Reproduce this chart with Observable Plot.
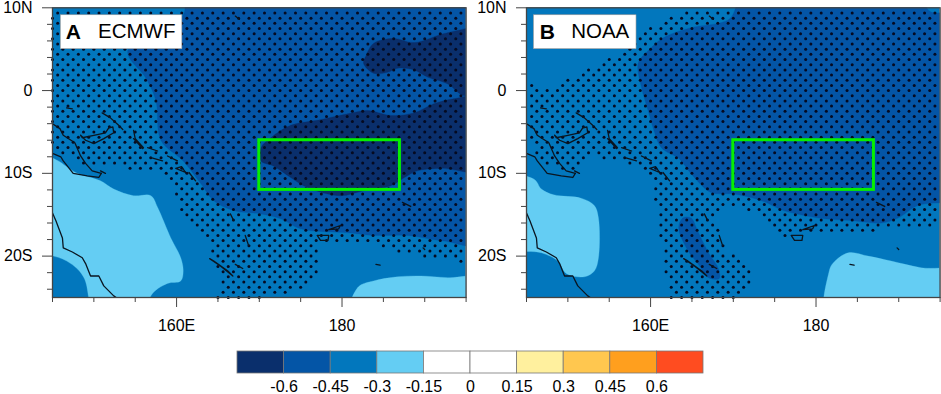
<!DOCTYPE html>
<html><head><meta charset="utf-8">
<script src="https://cdn.jsdelivr.net/npm/d3@7"></script>
<script src="https://cdn.jsdelivr.net/npm/@observablehq/plot@0.6"></script>
<style>
html,body{margin:0;padding:0;background:#fff;width:941px;height:394px;overflow:hidden}
#a,#b,#c{position:absolute;top:0}
svg{display:block;background:transparent!important}
</style></head><body>
<div id="a" style="left:0"></div><div id="b" style="left:474px"></div><div id="c" style="left:200px;top:340px"></div>
<script>
const colors={c1:"#0a2f6c",c2:"#0455a6",c3:"#0277bd",c4:"#64cdf3"};
const levelLabels=[-0.6,-0.45,-0.3,-0.15,0,0.15,0.3,0.45,0.6];
const levelEdges=[-0.75,-0.6,-0.45,-0.3,-0.15,0,0.15,0.3,0.45,0.6,0.75];
const levelColors=["#0a2f6c","#0455a6","#0277bd","#64cdf3","#ffffff","#ffffff","#fff09e","#ffc74f","#ff9f1e","#ff4c20"];

const aMid=[[161.1,10],[160.8,9.1],[154.1,4.8],[156.3,1.5],[157.5,-1.2],[158.1,-6],[160.8,-8.5],[162.9,-11.2],[164.5,-13.3],[166.9,-14.5],[170.2,-14.9],[172.6,-15.5],[175,-16.7],[181,-17.2],[183.8,-17.5],[187.9,-17.5],[191.9,-18.1],[195,-18.4],[195,10]];
const aDarkTop=[[195,7.5],[192.8,7],[188.7,5.8],[186.2,6.3],[183.8,5.7],[182.9,4.2],[182.6,3.3],[183.8,2.1],[185.5,2.2],[186.7,2.7],[188.7,2.5],[190.4,1.6],[192.8,0.8],[194.7,-0.6],[195,-0.6]];
const aDarkMid=[[195,-0.7],[193.5,-1],[191.1,-1.6],[188.7,-2.7],[185.9,-3],[183.1,-2.4],[180.7,-2.8],[177,-3.6],[173.8,-4.2],[171.4,-5.7],[170.2,-6.9],[170.2,-8.5],[171.7,-9.1],[173.8,-10.5],[175.8,-11.7],[179.8,-12.7],[182.6,-12.1],[185.9,-11.5],[187.4,-10.6],[189.1,-9.7],[191.9,-9.4],[195,-9.7]];
const aLightW=[[145,-7],[145.7,-8.5],[146.6,-9.1],[148,-10],[150.8,-10.9],[152.4,-11.9],[154.8,-12.7],[156.9,-12.7],[157.7,-14.1],[159.3,-17.8],[160.5,-20.2],[160.8,-21.8],[160.5,-23],[158.9,-23.3],[156.9,-24.8],[156.7,-25],[150.6,-25],[148.8,-22.6],[147.2,-20.9],[145.1,-20],[145,-20]];
const aLightE=[[180.8,-25],[181.9,-23.8],[183.8,-23],[186.7,-22.5],[189.5,-22.4],[192.8,-22.6],[195,-22.7],[195,-25]];
const aStipple=[[145,10],[195,10],[195,-20.9],[194.3,-20.6],[189.5,-20],[186.2,-19.3],[183.1,-18.4],[179.8,-18.1],[177.4,-18.5],[177.4,-19.7],[177.2,-22.4],[176,-23.6],[171.1,-25],[165,-25],[165.3,-22.1],[164.5,-20.2],[163.7,-18.5],[161.9,-16.7],[160.1,-13.7],[159.5,-11.5],[158.4,-9.7],[156,-9.7],[154.5,-9.4],[152.9,-9.1],[150.8,-8.7],[148,-9.1],[146,-7.3],[145,-6.7]];

const bMid=[[172.4,10],[192.3,10],[193.7,9.6],[195,9.4],[195,-12.3],[192.3,-13.9],[189.9,-15.4],[187.9,-16],[184.2,-15.7],[180.3,-15.4],[176.1,-14.5],[173.4,-13.3],[170.1,-12.5],[167.3,-12.3],[165.3,-10.5],[163.7,-8.5],[163.3,-8.1],[161.3,-6.9],[160.4,-4.8],[159.7,-2.4],[158.9,0.4],[158.5,3.3],[159.7,4.8],[161.6,6.4],[164.9,7.6],[168.5,8.2],[169.7,8.8]];
const bBlob=[[163.4,-16.6],[163.9,-15.4],[164.9,-15.4],[165.7,-17],[167,-19.6],[168.2,-21.5],[168.3,-22.7],[167,-22.6],[165.7,-20.9],[164.5,-19.3]];
const bLightW=[[145,-10.3],[145.9,-10.7],[146.8,-11.9],[148.3,-12.6],[151.6,-13],[153.2,-13.9],[153.7,-15.4],[153.7,-20.2],[153.2,-21.8],[152,-22.5],[149.8,-22.1],[148.8,-20.6],[146.8,-19.6],[145,-18.7]];
const bLightE=[[181.5,-25],[181.6,-21.8],[182.1,-20.8],[183.9,-19.6],[186.3,-20],[189.1,-20.6],[192.7,-21.4],[195,-22.1],[195,-25]];
const bStipple=[[145,1],[146.1,0.5],[148.8,0.2],[150,1.5],[151.6,2.4],[155.6,4.1],[156.8,4.8],[158.6,6.9],[161.6,8.5],[163.7,9.6],[164.9,10],[195,10],[195,-16.3],[193.6,-16.3],[186.7,-16.9],[179.4,-16.9],[175.8,-17.7],[174.6,-16],[172.2,-14.8],[169.1,-13.9],[168,-15.1],[168.5,-17.8],[169.4,-19.7],[172.2,-20.9],[172.3,-23.3],[171,-25],[162.2,-25],[161.6,-20.2],[160.9,-16.6],[160.4,-12.5],[160.1,-10.3],[157.6,-9.1],[156.8,-8.5],[152.8,-7.9],[151.2,-9.7],[149.8,-9.9],[147.4,-9.1],[146.2,-7.9],[145.2,-6]];

const coasts=[
 [[145,-4],[145.9,-4.6],[146.3,-5.4],[147.7,-6.3],[148.4,-7.9],[149,-8.8],[149.8,-9.7],[150.9,-10]],
 [[145,-7.6],[146,-8],[146.3,-8.5],[147.5,-10],[149.2,-10.3],[150.6,-10.5],[150.9,-10]],
 [[148.4,-5.4],[149,-6],[150,-6.4],[151.2,-5.8],[152.4,-5.1],[152.3,-4.4],[151.8,-4.5],[151.4,-5.1],[150,-5.4],[148.6,-5.7],[148.4,-5.4]],
 [[151,-2.7],[152,-3.3],[153,-4.2],[153.5,-4.7]],
 [[146.7,-2.1],[147.4,-2.2]],
 [[154.8,-4.8],[155,-5.8],[156,-6.9],[155.9,-7],[154.8,-5.8]],
 [[156.5,-6.9],[157.7,-7.3]],[[158.9,-7.9],[160.1,-8.5]],[[156.9,-8.1],[158.3,-8.5]],
 [[159.9,-9.4],[161.1,-9.9],[160.6,-9.2],[159.9,-9.4]],[[161.5,-9.9],[162.3,-10.9]],[[150.8,-9.7],[151.4,-10]],
 [[145,-14.8],[145.4,-15.7],[146.2,-17.8],[146.3,-19],[147.4,-19.5],[148.6,-20.2],[149,-20.9],[149.6,-22.4],[150.6,-22.4],[151.2,-23.6],[152.4,-24.8],[152.7,-25]],
 [[166.5,-14.9],[166.9,-15.7]],[[168.3,-17.5],[168.7,-18.7]],[[168,-21.5],[167.1,-21]],
 [[164,-20.3],[165.3,-21.2],[166.8,-22.4],[166.2,-21.8],[164.5,-20.6],[164,-20.3]],
 [[178.4,-16.8],[179.8,-16.3],[179.6,-16.7],[178.4,-16.8]],
 [[177,-17.5],[178.4,-17.5],[178.3,-18.1],[177.4,-18.1],[177,-17.5]],
 [[187.3,-13.5],[188.3,-14]],[[184.1,-21],[184.6,-21.1]],[[189.8,-19],[190,-19.2]],[[167.1,9],[167.6,8.6]]
];
const dotGridStartLon=145, dotGridStepLon=1.25, dotGridStepLat=0.625;
const boxLon=[170,187], boxLat=[-12,-6];
const majorLon=[160,180], minorLon=[145,150,155,165,170,175,185,190,195];
const majorLat=[10,0,-10,-20], minorLat=[8,6,4,2,-2,-4,-6,-8,-12,-14,-16,-18,-22,-24];

const pushOut=([lon,lat])=>[lon>=195?199:lon<=145?141:lon,lat>=10?14:lat<=-25?-29:lat];
function poly(p,fill){return Plot.line(p.map(pushOut),{x:d=>d[0],y:d=>d[1],fill,stroke:fill,strokeWidth:0.3,curve:"catmull-rom-closed",clip:true});}
function stipple(region){
  const pts=[];
  d3.range(0,57).forEach(r=>{
    const lat=10-r*dotGridStepLat;
    d3.range(0,42).forEach(c=>{
      const lon=dotGridStartLon+c*dotGridStepLon+(r%2?dotGridStepLon/2:0);
      if(lon<=195&&d3.polygonContains(region,[lon,lat])) pts.push([lon,lat]);
    });
  });
  return pts;
}
const latFmt=d=>d===0?"0":d>0?d+"N":(-d)+"S";
const lonFmt=d=>d===180?"180":d+"E";
function panel(el,width,mr,polys,region,boxX,letter,lx,name,nx){
  const svg=Plot.plot({
    width,height:340,marginLeft:52,marginRight:mr,marginTop:7.3,marginBottom:43,
    x:{domain:[145,195],axis:null},y:{domain:[-25,10],axis:null},
    style:{background:"transparent",fontFamily:"'Liberation Sans',Arial,sans-serif",fontSize:"16px",overflow:"visible"},
    marks:[
      Plot.rect([0],{x1:145,x2:195,y1:-25,y2:10,fill:colors.c3}),
      ...polys.map(([p,f])=>poly(p,f)),
      Plot.dot(stipple(region),{x:d=>d[0],y:d=>d[1],r:1.5,fill:"#050a20",stroke:null}),
      ...coasts.map(c=>Plot.line(c,{x:d=>d[0],y:d=>d[1],stroke:"#0a1520",strokeWidth:1.3,curve:"linear",clip:true})),
      Plot.rect([0],{x1:boxLon[0],x2:boxLon[1],y1:boxLat[0],y2:boxLat[1],fill:"none",stroke:"#06f000",strokeWidth:3}),
      Plot.rect([0],{x1:boxX[0],x2:boxX[1],y1:5,y2:9.1,fill:"#fff",stroke:"#999",strokeWidth:0.6}),
      Plot.text([letter],{x:lx,y:7.1,text:d=>d,textAnchor:"start",fontSize:21,fontWeight:"bold",fill:"#000"}),
      Plot.text([name],{x:nx,y:7.1,text:d=>d,textAnchor:"start",fontSize:20.5,fill:"#000"}),
      Plot.frame({stroke:"#444",strokeWidth:1.3}),
      Plot.axisX({ticks:minorLon,tickSize:5,tickFormat:()=>"",anchor:"bottom",stroke:"#444"}),
      Plot.axisX({ticks:majorLon,tickSize:10,tickPadding:12,tickFormat:lonFmt,anchor:"bottom",stroke:"#444",fill:"#000"}),
      Plot.axisY({ticks:minorLat,tickSize:5,tickFormat:()=>"",anchor:"left",stroke:"#444"}),
      Plot.axisY({ticks:majorLat,tickSize:10,tickPadding:10,tickFormat:latFmt,anchor:"left",stroke:"#444",fill:"#000"})
    ]
  });
  document.getElementById(el).append(svg);
}
panel("a",470,4.4,[[aMid,colors.c2],[aLightW,colors.c4],[aLightE,colors.c4],[aDarkTop,colors.c1],[aDarkMid,colors.c1]],aStipple,[146,160.7],"A",146.6,"ECMWF",150.5);
panel("b",467,1.4,[[bMid,colors.c2],[bBlob,colors.c2],[bLightW,colors.c4],[bLightE,colors.c4]],bStipple,[145.9,158.3],"B",146.6,"NOAA",150.4);

const bins=levelColors.map((fill,i)=>({x1:levelEdges[i],x2:levelEdges[i+1],fill}));
document.getElementById("c").append(Plot.plot({
  width:540,height:54,marginLeft:37,marginRight:37,marginTop:11,marginBottom:21,
  x:{domain:[-0.75,0.75],axis:null},y:{axis:null},
  style:{background:"transparent",fontFamily:"'Liberation Sans',Arial,sans-serif",fontSize:"16px",overflow:"visible"},
  marks:[
    Plot.rect(bins,{x1:"x1",x2:"x2",y1:0,y2:1,fill:"fill",stroke:"#777",strokeWidth:0.8}),
    Plot.axisX({ticks:levelLabels,tickSize:0,tickPadding:7,tickFormat:d=>String(d),anchor:"bottom",fill:"#000"})
  ]
}));
</script>
</body></html>
